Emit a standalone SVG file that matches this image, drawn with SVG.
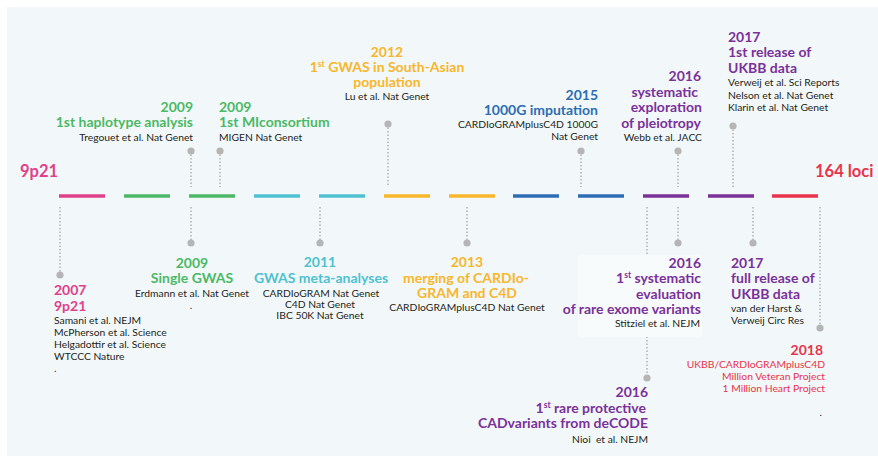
<svg xmlns="http://www.w3.org/2000/svg" width="878" height="456" viewBox="0 0 878 456">
  <style>
    text { font-family: Lato, "Open Sans", "Liberation Sans", sans-serif; }
    .h { font-size: 14px; font-weight: bold; }
    .big { font-size: 16.5px; font-weight: bold; }
    .ref { font-size: 10.3px; fill: #231f20; }
    .sup { font-size: 8.5px; }
    .end { text-anchor: end; }
    .mid { text-anchor: middle; }
    .pink { fill: #e0408a; }
    .green { fill: #4cb867; }
    .cyan { fill: #4fc1d0; }
    .yellow { fill: #f8b62a; }
    .blue { fill: #2d6db3; }
    .purple { fill: #7a3199; }
    .red { fill: #e8334b; }
    .bar { stroke-width: 3.6; stroke-linecap: butt; }
    .stem { stroke: #b5b5b5; stroke-width: 1.6; stroke-dasharray: 1.6 1.9; fill: none; }
    .dot { fill: #b5b5b5; }
  </style>

  <!-- panel background -->
  <rect x="7" y="7" width="871" height="449" fill="#f2f8f9"/>

  <!-- timeline segments -->
  <g id="timeline">
    <line class="bar" x1="59" y1="196" x2="105" y2="196" stroke="#e0408a"/>
    <line class="bar" x1="124" y1="196" x2="170" y2="196" stroke="#4cb867"/>
    <line class="bar" x1="189" y1="196" x2="235" y2="196" stroke="#4cb867"/>
    <line class="bar" x1="254" y1="196" x2="300" y2="196" stroke="#4fc1d0"/>
    <line class="bar" x1="319" y1="196" x2="365" y2="196" stroke="#4fc1d0"/>
    <line class="bar" x1="384" y1="196" x2="430" y2="196" stroke="#f8b62a"/>
    <line class="bar" x1="449" y1="196" x2="495" y2="196" stroke="#f8b62a"/>
    <line class="bar" x1="513" y1="196" x2="559" y2="196" stroke="#2d6db3"/>
    <line class="bar" x1="578" y1="196" x2="624" y2="196" stroke="#2d6db3"/>
    <line class="bar" x1="643" y1="196" x2="689" y2="196" stroke="#7a3199"/>
    <line class="bar" x1="708" y1="196" x2="754" y2="196" stroke="#7a3199"/>
    <line class="bar" x1="772" y1="196" x2="818" y2="196" stroke="#e8334b"/>
  </g>

  <!-- connectors: dotted stems with end dots -->
  <g id="connectors">
    <line class="stem" x1="191" y1="151" x2="191" y2="187"/><circle class="dot" cx="191" cy="151" r="3.6"/>
    <line class="stem" x1="220" y1="151" x2="220" y2="187"/><circle class="dot" cx="220" cy="151" r="3.6"/>
    <line class="stem" x1="388" y1="124" x2="388" y2="187"/><circle class="dot" cx="388" cy="124" r="3.6"/>
    <line class="stem" x1="581" y1="151" x2="581" y2="187"/><circle class="dot" cx="581" cy="151" r="3.6"/>
    <line class="stem" x1="678" y1="151" x2="678" y2="187"/><circle class="dot" cx="678" cy="151" r="3.6"/>
    <line class="stem" x1="733" y1="126" x2="733" y2="187"/><circle class="dot" cx="733" cy="126" r="3.6"/>

    <line class="stem" x1="60" y1="207" x2="60" y2="275"/><circle class="dot" cx="60" cy="275" r="3.6"/>
    <line class="stem" x1="191" y1="207" x2="191" y2="243"/><circle class="dot" cx="191" cy="243" r="3.6"/>
    <line class="stem" x1="320" y1="207" x2="320" y2="243"/><circle class="dot" cx="320" cy="243" r="3.6"/>
    <line class="stem" x1="467" y1="207" x2="467" y2="243"/><circle class="dot" cx="467" cy="243" r="3.6"/>
    <line class="stem" x1="647" y1="207" x2="647" y2="378"/><circle class="dot" cx="647" cy="378" r="3.6"/>
    <line class="stem" x1="678" y1="207" x2="678" y2="243"/><circle class="dot" cx="678" cy="243" r="3.6"/>
    <line class="stem" x1="753" y1="207" x2="753" y2="243"/><circle class="dot" cx="753" cy="243" r="3.6"/>
    <line class="stem" x1="820" y1="207" x2="820" y2="328"/><circle class="dot" cx="820" cy="328" r="3.6"/>
  </g>

  <!-- end labels -->
  <g id="start">
    <text class="big pink" x="20" y="177">9p21</text>
  </g>
  <g id="end">
    <text class="big red" x="815" y="177">164 loci</text>
  </g>

  <!-- events above the line -->
  <g id="haplotype-2009">
    <text class="h green end" x="193" y="112">2009</text>
    <text class="h green end" x="193" y="127">1st haplotype analysis</text>
    <text class="ref end" x="193" y="141">Tregouet et al. Nat Genet</text>
  </g>
  <g id="miconsortium-2009">
    <text class="h green" x="219" y="112">2009</text>
    <text class="h green" x="219" y="127">1st MIconsortium</text>
    <text class="ref" x="219" y="141">MIGEN Nat Genet</text>
  </g>
  <g id="south-asian-2012">
    <text class="h yellow mid" x="387" y="57">2012</text>
    <text class="h yellow mid" x="387" y="72">1<tspan class="sup" dy="-5">st</tspan><tspan dy="5"> GWAS in South-Asian</tspan></text>
    <text class="h yellow mid" x="387" y="87">population</text>
    <text class="ref mid" x="387" y="100">Lu et al. Nat Genet</text>
  </g>
  <g id="imputation-2015">
    <text class="h blue end" x="598" y="100">2015</text>
    <text class="h blue end" x="598" y="115">1000G imputation</text>
    <text class="ref end" x="598" y="128">CARDIoGRAMplusC4D 1000G</text>
    <text class="ref end" x="598" y="140">Nat Genet</text>
  </g>
  <g id="pleiotropy-2016">
    <text class="h purple end" x="701" y="81">2016</text>
    <text class="h purple end" x="698" y="97">systematic</text>
    <text class="h purple end" x="702" y="112">exploration</text>
    <text class="h purple end" x="701" y="128">of pleiotropy</text>
    <text class="ref end" x="702" y="141">Webb et al. JACC</text>
  </g>
  <g id="ukbb-first-2017">
    <text class="h purple" x="728" y="42">2017</text>
    <text class="h purple" x="728" y="57">1st release of</text>
    <text class="h purple" x="728" y="73">UKBB data</text>
    <text class="ref" x="728" y="86">Verweij et al. Sci Reports</text>
    <text class="ref" x="728" y="99">Nelson et al. Nat Genet</text>
    <text class="ref" x="728" y="111">Klarin et al. Nat Genet</text>
  </g>

  <!-- events below the line -->
  <g id="locus-2007">
    <text class="h pink" x="54" y="295">2007</text>
    <text class="h pink" x="54" y="311">9p21</text>
    <text class="ref" x="54" y="324">Samani et al. NEJM</text>
    <text class="ref" x="54" y="336">McPherson et al. Science</text>
    <text class="ref" x="54" y="348">Helgadottir et al. Science</text>
    <text class="ref" x="54" y="360">WTCCC Nature</text>
    <text class="ref" x="54" y="372">.</text>
  </g>
  <g id="single-gwas-2009">
    <text class="h green mid" x="192" y="268">2009</text>
    <text class="h green mid" x="192" y="283">Single GWAS</text>
    <text class="ref mid" x="192" y="297">Erdmann et al. Nat Genet</text>
    <text class="ref mid" x="191" y="309">.</text>
  </g>
  <g id="meta-2011">
    <text class="h cyan mid" x="320" y="267">2011</text>
    <text class="h cyan mid" x="321" y="283">GWAS meta-analyses</text>
    <text class="ref mid" x="321" y="297">CARDIoGRAM Nat Genet</text>
    <text class="ref mid" x="320" y="308">C4D Nat Genet</text>
    <text class="ref mid" x="320" y="319">IBC 50K Nat Genet</text>
  </g>
  <g id="merging-2013">
    <text class="h yellow mid" x="467" y="267">2013</text>
    <text class="h yellow mid" x="466" y="283">merging of CARDIo-</text>
    <text class="h yellow mid" x="467" y="298">GRAM and C4D</text>
    <text class="ref mid" x="467" y="311">CARDIoGRAMplusC4D Nat Genet</text>
  </g>
  <g id="exome-2016">
    <rect x="578" y="255" width="124" height="82" fill="#f8fbfb"/>
    <text class="h purple end" x="701" y="268">2016</text>
    <text class="h purple end" x="701" y="283">1<tspan class="sup" dy="-5">st</tspan><tspan dy="5"> systematic</tspan></text>
    <text class="h purple end" x="701" y="299">evaluation</text>
    <text class="h purple end" x="701" y="314">of rare exome variants</text>
    <text class="ref end" x="700" y="327">Stitziel et al. NEJM</text>
  </g>
  <g id="ukbb-full-2017">
    <text class="h purple" x="731" y="268">2017</text>
    <text class="h purple" x="731" y="283">full release of</text>
    <text class="h purple" x="731" y="299">UKBB data</text>
    <text class="ref" x="731" y="312">van der Harst &amp;</text>
    <text class="ref" x="731" y="324">Verweij Circ Res</text>
  </g>
  <g id="biobanks-2018">
    <text class="h red end" x="823" y="355">2018</text>
    <text class="ref red end" x="825" y="368">UKBB/CARDIoGRAMplusC4D</text>
    <text class="ref red end" x="825" y="380">Million Veteran Project</text>
    <text class="ref red end" x="825" y="392">1 Million Heart Project</text>
    <text class="ref end" x="822" y="416">.</text>
  </g>
  <g id="decode-2016">
    <text class="h purple end" x="648" y="397">2016</text>
    <text class="h purple end" x="646" y="413">1<tspan class="sup" dy="-5">st</tspan><tspan dy="5"> rare protective</tspan></text>
    <text class="h purple end" x="648" y="428">CADvariants from deCODE</text>
    <text class="ref end" x="648" y="443">Nioi&#160; et al. NEJM</text>
  </g>
</svg>
